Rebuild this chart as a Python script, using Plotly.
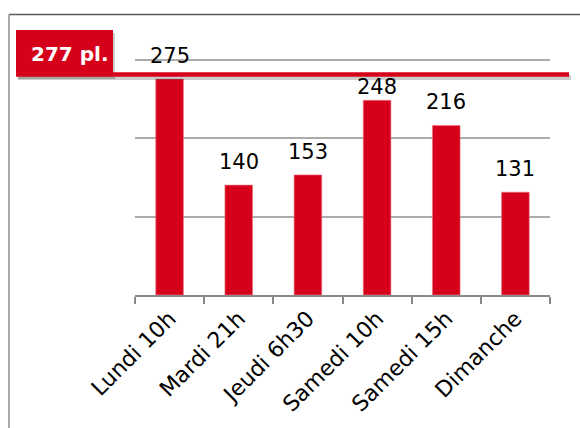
import plotly.graph_objects as go

categories = ["Lundi 10h", "Mardi 21h", "Jeudi 6h30", "Samedi 10h", "Samedi 15h", "Dimanche"]
values = [275, 140, 153, 248, 216, 131]
capacity_label = "277 pl."
capacity_line_value = 281

# label placement tweaks (pixels), keyed by category
label_shift = {"Samedi 10h": -1}
DEFAULT_SHIFT = 9

W, H = 580, 428
ML, MR, MT, MB = 135, 30, 30, 133
PW, PH = W - ML - MR, H - MT - MB
YMAX = PH / 0.785

def fx(px):
    return (px - ML) / PW

def fy(py):
    return (H - MB - py) / PH

RED = "#d7001a"

fig = go.Figure(go.Bar(
    x=categories, y=values,
    marker=dict(color=RED, line=dict(color="#ec7a86", width=0.6)),
    width=0.4,
))

for c, v in zip(categories, values):
    fig.add_annotation(x=c, y=v, xref="x", yref="y", text=str(v), showarrow=False,
                       yanchor="bottom", yshift=label_shift.get(c, DEFAULT_SHIFT),
                       font=dict(family="DejaVu Sans", size=21, color="#000000"))

shapes = []
shapes.append(dict(type="line", xref="paper", yref="paper", x0=fx(9), x1=fx(582), y0=fy(14.5), y1=fy(14.5),
                   line=dict(color="#5a5a5a", width=1.5)))
shapes.append(dict(type="line", xref="paper", yref="paper", x0=fx(9), x1=fx(9), y0=fy(14.5), y1=fy(430),
                   line=dict(color="#8c8c8c", width=1.5)))
shapes.append(dict(type="rect", xref="paper", yref="paper", x0=fx(18), x1=fx(115), y0=fy(33), y1=fy(79),
                   fillcolor="rgba(0,0,0,0.2)", line=dict(width=0), layer="above"))
shapes.append(dict(type="rect", xref="paper", yref="paper", x0=fx(18), x1=fx(571), y0=fy(75), y1=fy(80),
                   fillcolor="rgba(0,0,0,0.2)", line=dict(width=0), layer="above"))
shapes.append(dict(type="rect", xref="paper", yref="paper", x0=fx(16), x1=fx(113), y0=fy(30), y1=fy(75),
                   fillcolor=RED, line=dict(width=0), layer="above"))
shapes.append(dict(type="line", xref="paper", yref="y", x0=fx(16), x1=fx(569),
                   y0=capacity_line_value, y1=capacity_line_value,
                   line=dict(color=RED, width=4.5), layer="above"))
fig.update_layout(shapes=shapes)

fig.add_annotation(xref="paper", yref="paper", x=fx(69.5), y=fy(54.5), text="<b>" + capacity_label + "</b>",
                   showarrow=False, xanchor="center", yanchor="middle",
                   font=dict(family="DejaVu Sans", size=20, color="#ffffff"))

fig.update_layout(
    width=W, height=H,
    margin=dict(l=ML, r=MR, t=MT, b=MB, pad=0),
    paper_bgcolor="#ffffff", plot_bgcolor="#ffffff",
    showlegend=False,
    bargap=0.6,
    font=dict(family="DejaVu Sans", color="#000000"),
)
fig.update_xaxes(
    type="category", tickangle=-45, tickson="boundaries",
    ticks="outside", ticklen=7, tickwidth=2, tickcolor="#8a8a8a",
    showline=True, linecolor="#8a8a8a", linewidth=2,
    showgrid=False, tickfont=dict(family="DejaVu Sans", size=22, color="#000000"),
)
fig.update_yaxes(
    range=[0, YMAX], dtick=100, showticklabels=False, ticks="",
    showgrid=True, gridcolor="#ababab", gridwidth=2,
    zeroline=False, showline=False,
)

fig.write_html("out.html", config={"displayModeBar": False},
               post_script="document.body.style.margin='0';")
